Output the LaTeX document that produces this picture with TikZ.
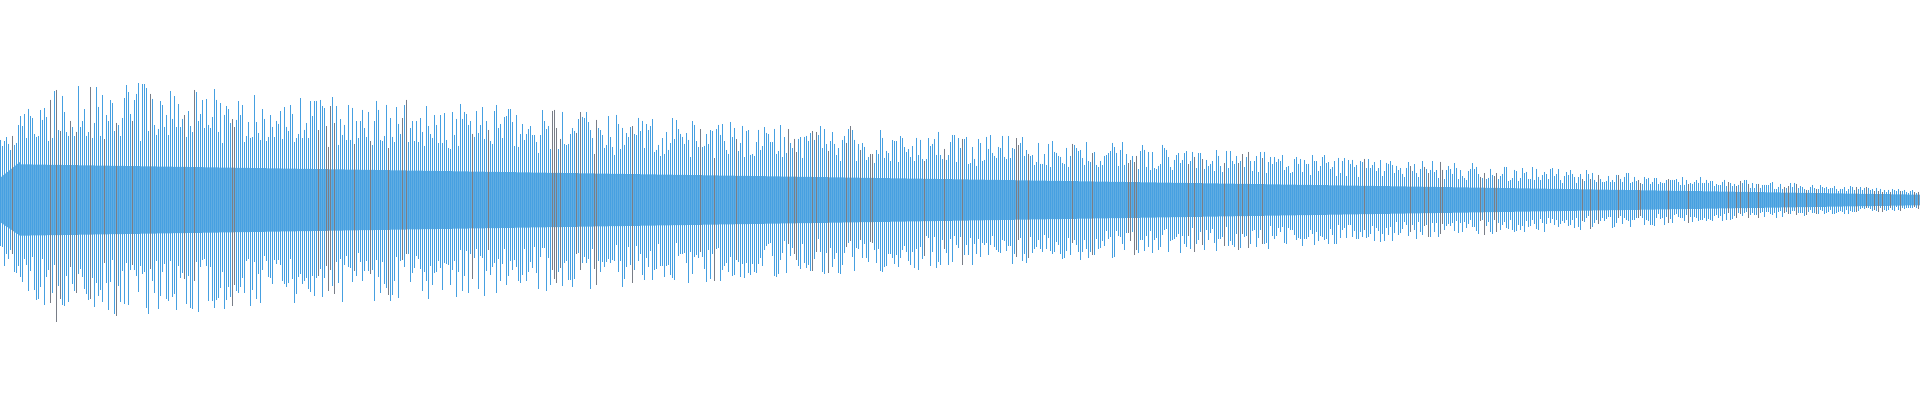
\documentclass[tikz,border=0pt]{standalone}
\definecolor{wave}{RGB}{96,173,227}
\definecolor{waveline}{RGB}{70,160,225}
\definecolor{wavegray}{RGB}{120,125,135}
\begin{document}
\begin{tikzpicture}[x=0.01cm,y=0.01cm]
\useasboundingbox (0,0) rectangle (1920,400);
\pgfmathsetseed{7}
\fill[wave] (0,222) -- (20,238) -- plot[domain=20:1920,samples=40] (\x,{200+36-0.016*\x}) -- plot[domain=1920:20,samples=40] (\x,{200-36+0.016*\x}) -- (0,178) -- cycle;
\foreach \i in {0,...,959}{
  \pgfmathsetmacro{\xx}{\i*2}
  \pgfmathsetmacro{\A}{(125-0.06*\xx)*min(1,0.5+\xx/110)}
  \pgfmathsetmacro{\B}{36-0.016*\xx}
  \pgfmathsetmacro{\hu}{\B+(0.3+0.7*rnd)*(\A-\B)}
  \pgfmathsetmacro{\hd}{\B+(0.3+0.7*rnd)*(\A-\B)}
  \pgfmathsetmacro{\c}{rnd}
  \ifdim\c pt<0.12pt
    \draw[wavegray,line width=0.25pt] (\xx,200+\hu) -- (\xx,200-\hd);
  \else
    \draw[waveline,line width=0.25pt] (\xx,200+\hu) -- (\xx,200-\hd);
  \fi
}
\end{tikzpicture}
\end{document}
